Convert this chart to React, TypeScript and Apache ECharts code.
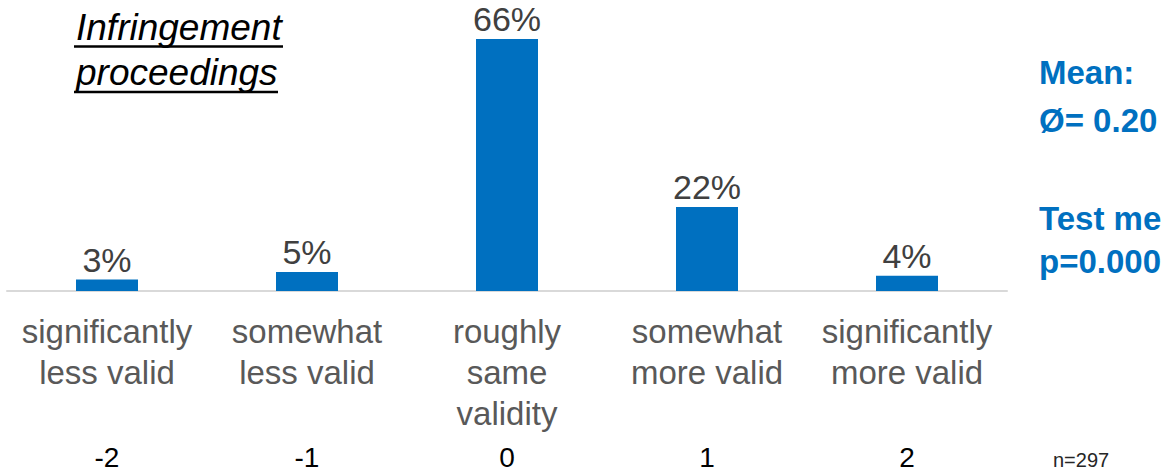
import React, { useEffect, useRef } from "react";
import * as echarts from "echarts";

// Answer categories (two-line / three-line labels) and their scale codes
const categories = [
  "significantly\nless valid",
  "somewhat\nless valid",
  "roughly\nsame\nvalidity",
  "somewhat\nmore valid",
  "significantly\nmore valid",
];
const scaleCodes = ["-2", "-1", "0", "1", "2"];

// Share of respondents per answer, in percent
const shares = [3, 5, 66, 22, 4];

const titleLines = ["Infringement", "proceedings"];
const statLines = ["Mean:", "Ø= 0.20", "Test me", "p=0.000"];
const sampleNote = "n=297";

const FONT = "'Liberation Sans', Arial, Helvetica, sans-serif";
const BLUE = "#0070C0";

export default function App() {
  const ref = useRef<HTMLDivElement>(null);

  useEffect(() => {
    if (!ref.current) return;
    const chart = echarts.init(ref.current, null, { renderer: "svg" });

    const titleY = [27, 72.5];
    const statY = [72.5, 120.5, 218.5, 261.5];

    chart.setOption({
      animation: false,
      backgroundColor: "#ffffff",
      textStyle: { fontFamily: FONT },
      grid: { left: 7, right: 156, top: 39, bottom: 181, containLabel: false },
      xAxis: [
        {
          type: "category",
          data: categories,
          position: "bottom",
          axisLine: { show: true, lineStyle: { color: "#d9d9d9", width: 2 } },
          axisTick: { show: false },
          axisLabel: {
            interval: 0,
            margin: 20,
            fontSize: 33,
            lineHeight: 41,
            color: "#595959",
            fontFamily: FONT,
          },
        },
        {
          type: "category",
          data: scaleCodes,
          position: "bottom",
          offset: 144,
          axisLine: { show: false },
          axisTick: { show: false },
          axisLabel: {
            interval: 0,
            margin: 8,
            fontSize: 28,
            lineHeight: 28,
            color: "#000000",
            fontFamily: FONT,
          },
        },
      ],
      yAxis: {
        type: "value",
        min: 0,
        max: 66,
        show: false,
        splitLine: { show: false },
      },
      series: [
        {
          type: "bar",
          data: shares,
          barWidth: 62,
          itemStyle: { color: BLUE },
          label: {
            show: true,
            position: "top",
            distance: 3,
            formatter: "{c}%",
            fontSize: 34,
            lineHeight: 34,
            color: "#404040",
            fontFamily: FONT,
          },
        },
      ],
      graphic: [
        ...titleLines.map((t, i) => ({
          type: "text",
          x: 76,
          y: titleY[i],
          style: {
            text: t,
            font: `italic 37px ${FONT}`,
            fill: "#000000",
            textAlign: "left",
            textVerticalAlign: "middle",
          },
        })),
        {
          type: "line",
          shape: { x1: 74, y1: 46.5, x2: 283, y2: 46.5 },
          style: { stroke: "#000000", lineWidth: 2.5 },
        },
        {
          type: "line",
          shape: { x1: 74, y1: 92, x2: 278, y2: 92 },
          style: { stroke: "#000000", lineWidth: 2.5 },
        },
        ...statLines.map((t, i) => ({
          type: "text",
          x: 1039,
          y: statY[i],
          style: {
            text: t,
            font: `bold 33px ${FONT}`,
            fill: BLUE,
            textAlign: "left",
            textVerticalAlign: "middle",
          },
        })),
        {
          type: "text",
          x: 1053,
          y: 460,
          style: {
            text: sampleNote,
            font: `20px ${FONT}`,
            fill: "#262626",
            textAlign: "left",
            textVerticalAlign: "middle",
          },
        },
      ],
    });

    return () => chart.dispose();
  }, []);

  return (
    <div
      ref={ref}
      style={{ position: "fixed", left: 0, top: 0, width: 1163, height: 472 }}
    />
  );
}
